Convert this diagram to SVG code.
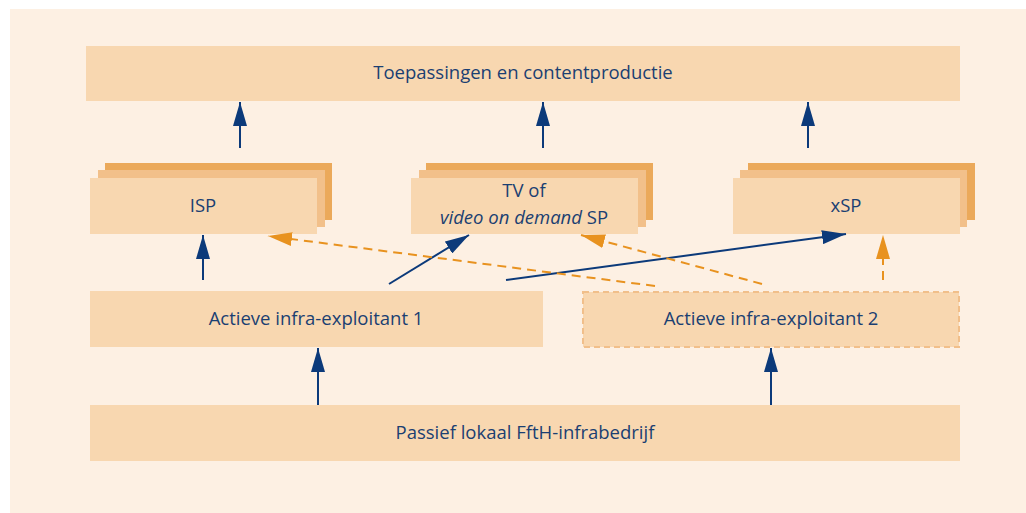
<svg xmlns="http://www.w3.org/2000/svg" width="1026" height="513" viewBox="0 0 1026 513">
  <style>
    .box { fill: #f8d7b0; }
    .mid { fill: #f2c08a; }
    .back { fill: #eba95a; }
    .lbl { font-family: "Open Sans", "Noto Sans", sans-serif; font-size: 18.5px; fill: #1b3f72; text-anchor: middle; }
    .blue { stroke: #0c3a7a; stroke-width: 2; fill: none; }
    .orange { stroke: #e8921f; stroke-width: 2; fill: none; stroke-dasharray: 9 6; }
  </style>
  <defs>
    <marker id="ah-blue" viewBox="0 0 24 14" refX="24" refY="7" markerWidth="24" markerHeight="14" markerUnits="userSpaceOnUse" orient="auto">
      <path d="M0,0 L24,7 L0,14 Z" fill="#0c3a7a"/>
    </marker>
    <marker id="ah-orange" viewBox="0 0 24 14" refX="24" refY="7" markerWidth="24" markerHeight="14" markerUnits="userSpaceOnUse" orient="auto">
      <path d="M0,0 L24,7 L0,14 Z" fill="#e8921f"/>
    </marker>
  </defs>

  <rect x="0" y="0" width="1026" height="513" fill="#ffffff"/>
  <rect x="10" y="9" width="1016" height="504" fill="#fdf0e3"/>

  <g id="toepassingen">
    <rect class="box" x="86" y="46" width="874" height="55"/>
    <text class="lbl" x="523" y="79">Toepassingen en contentproductie</text>
  </g>

  <g id="isp">
    <rect class="back" x="105" y="163" width="227" height="57"/>
    <rect class="mid" x="98" y="170" width="227" height="57"/>
    <rect class="box" x="90" y="178" width="227" height="56"/>
    <text class="lbl" x="203" y="212">ISP</text>
  </g>

  <g id="tv-vod">
    <rect class="back" x="426" y="163" width="227" height="57"/>
    <rect class="mid" x="419" y="170" width="227" height="57"/>
    <rect class="box" x="411" y="178" width="227" height="56"/>
    <text class="lbl" x="524" y="197">TV of</text>
    <text class="lbl" x="524" y="224"><tspan font-style="italic">video on demand</tspan> SP</text>
  </g>

  <g id="xsp">
    <rect class="back" x="748" y="163" width="227" height="57"/>
    <rect class="mid" x="740" y="170" width="227" height="57"/>
    <rect class="box" x="733" y="178" width="227" height="56"/>
    <text class="lbl" x="846" y="212">xSP</text>
  </g>

  <g id="actieve-1">
    <rect class="box" x="90" y="291" width="453" height="56"/>
    <text class="lbl" x="316" y="325">Actieve infra-exploitant 1</text>
  </g>

  <g id="actieve-2">
    <rect class="box" x="583" y="292" width="376" height="55" stroke="#f1bf8a" stroke-width="2" stroke-dasharray="6 4"/>
    <text class="lbl" x="771" y="325">Actieve infra-exploitant 2</text>
  </g>

  <g id="passief">
    <rect class="box" x="90" y="405" width="870" height="56"/>
    <text class="lbl" x="525" y="439">Passief lokaal FftH-infrabedrijf</text>
  </g>

  <g id="connectors">
    <line class="blue" x1="240" y1="148" x2="240" y2="102" marker-end="url(#ah-blue)"/>
    <line class="blue" x1="543" y1="148" x2="543" y2="102" marker-end="url(#ah-blue)"/>
    <line class="blue" x1="808" y1="148" x2="808" y2="102" marker-end="url(#ah-blue)"/>
    <line class="blue" x1="203" y1="280" x2="203" y2="235" marker-end="url(#ah-blue)"/>
    <line class="blue" x1="318" y1="405" x2="318" y2="348" marker-end="url(#ah-blue)"/>
    <line class="blue" x1="771" y1="405" x2="771" y2="348" marker-end="url(#ah-blue)"/>
    <line class="blue" x1="389" y1="284" x2="469" y2="235" marker-end="url(#ah-blue)"/>
    <line class="blue" x1="506" y1="280" x2="846" y2="234" marker-end="url(#ah-blue)"/>
    <line class="orange" x1="655" y1="286" x2="268" y2="236" marker-end="url(#ah-orange)"/>
    <line class="orange" x1="762" y1="284" x2="581" y2="235" marker-end="url(#ah-orange)"/>
    <line class="orange" x1="883" y1="280" x2="883" y2="235" marker-end="url(#ah-orange)"/>
  </g>
</svg>
